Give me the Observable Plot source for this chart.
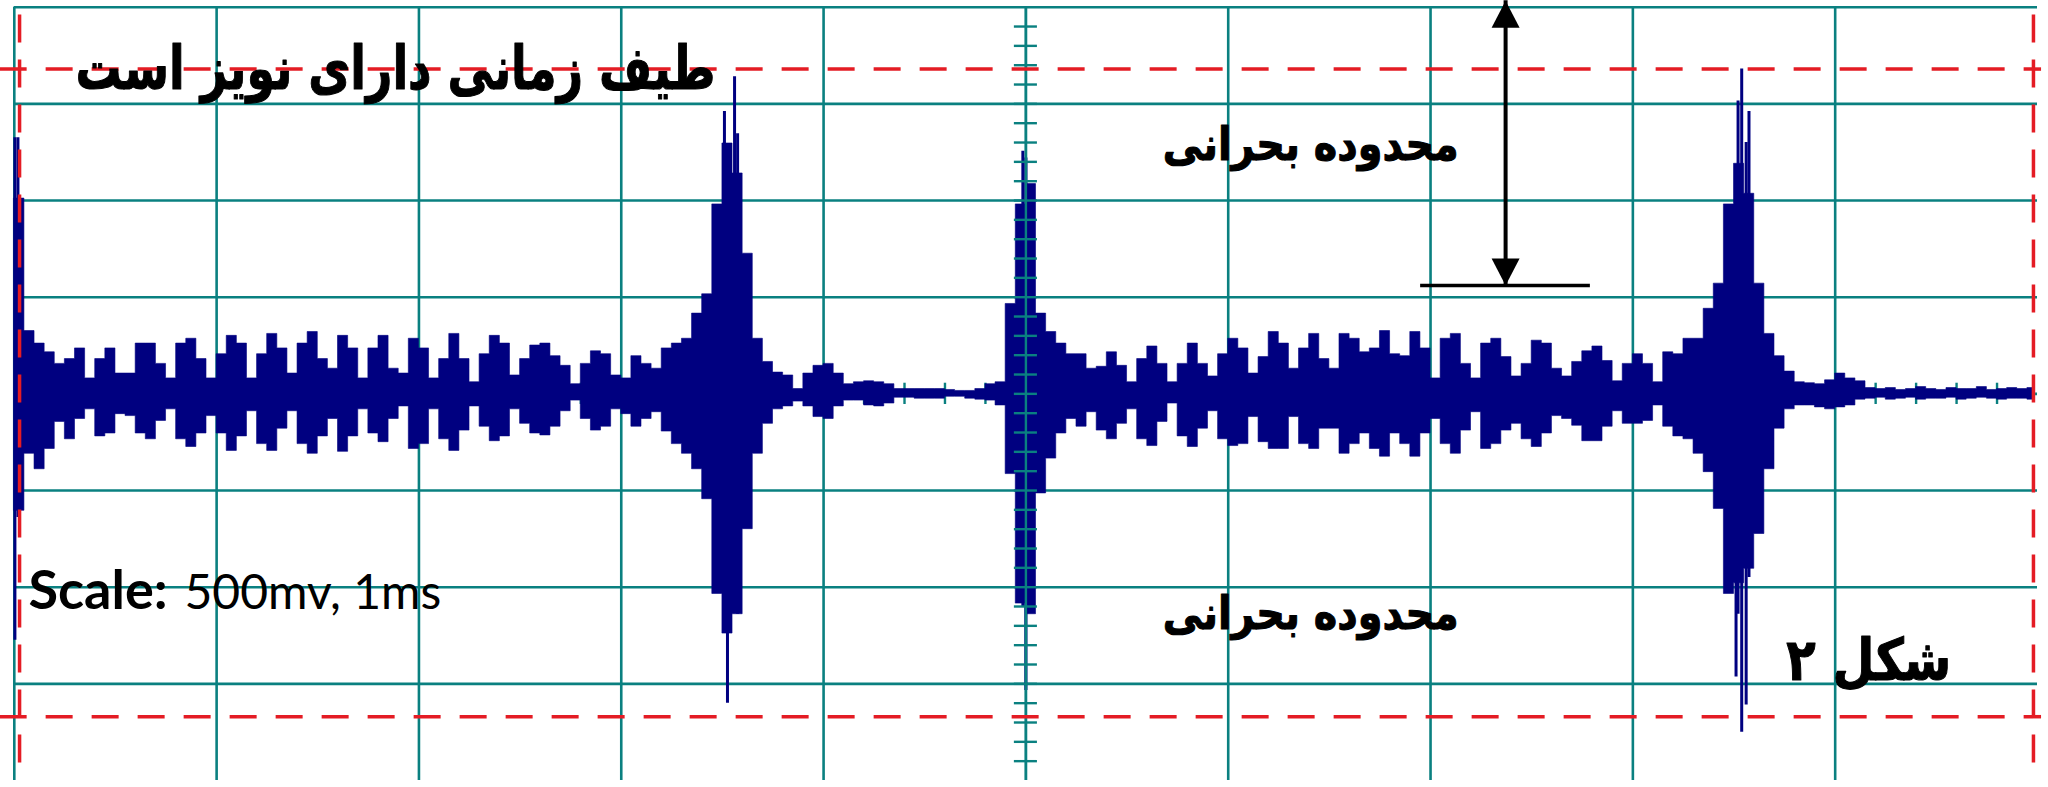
<!DOCTYPE html>
<html>
<head>
<meta charset="utf-8">
<script src="https://cdn.jsdelivr.net/npm/d3@7"></script>
<script src="https://cdn.jsdelivr.net/npm/@observablehq/plot@0.6"></script>
<style>
  html, body { margin: 0; padding: 0; background: #ffffff; }
  #chart svg { display: block; overflow: visible; }
</style>
</head>
<body>
<div id="chart"></div>
<script>
// ---- data (oscilloscope trace, 500 mV/div, 1 ms/div) ----
const sampleStepMs = 0.05;
// upper envelope of the trace, mV
const upperMv = [
  1010,325,260,215,155,180,235,80,180,235,
  105,105,260,260,155,80,260,285,180,80,
  205,300,260,80,205,310,235,105,260,320,
  180,130,300,235,80,235,300,130,105,285,
  235,80,180,310,180,60,205,300,260,95,
  180,250,260,195,145,50,155,220,205,95,
  80,195,155,130,235,260,285,415,515,980,
  1295,1140,725,285,165,110,95,25,105,145,
  155,105,50,60,65,60,50,25,25,25,
  25,25,20,15,15,25,50,60,465,980,
  1085,415,320,260,205,205,130,140,215,145,
  60,180,245,155,60,155,260,155,90,205,
  285,235,105,190,320,260,130,235,310,180,
  130,310,285,215,235,325,205,195,320,235,
  80,285,310,155,80,260,285,190,90,155,
  275,260,130,90,165,220,245,170,65,155,
  205,155,60,215,205,285,285,440,570,980,
  1190,1035,570,310,195,115,60,55,50,70,
  105,80,65,30,25,30,20,25,35,25,
  20,30,25,25,35,20,25,30,25,30
];
// lower envelope of the trace, mV
const lowerMv = [
  -605,-310,-390,-285,-145,-235,-130,-80,-220,-205,
  -105,-115,-205,-235,-140,-80,-235,-275,-205,-115,
  -205,-295,-220,-90,-260,-295,-180,-90,-260,-310,
  -220,-130,-300,-220,-80,-205,-250,-130,-65,-285,
  -260,-80,-235,-295,-190,-65,-170,-245,-220,-80,
  -155,-205,-215,-170,-90,-35,-130,-190,-170,-80,
  -105,-170,-130,-95,-195,-260,-310,-390,-545,-1035,
  -1240,-1140,-700,-310,-155,-80,-65,-40,-65,-120,
  -130,-65,-35,-35,-60,-65,-50,-20,-20,-25,
  -25,-25,-15,-15,-25,-30,-35,-60,-415,-1085,
  -1140,-515,-335,-205,-130,-170,-95,-190,-235,-155,
  -80,-235,-270,-145,-50,-220,-275,-180,-90,-235,
  -270,-260,-120,-250,-285,-285,-120,-260,-285,-180,
  -180,-310,-260,-205,-285,-325,-205,-260,-325,-205,
  -130,-260,-310,-190,-95,-285,-260,-190,-155,-235,
  -275,-205,-115,-130,-165,-245,-245,-170,-90,-155,
  -155,-140,-60,-170,-220,-235,-310,-405,-595,-1035,
  -980,-905,-725,-390,-180,-80,-60,-60,-70,-80,
  -70,-60,-30,-25,-20,-30,-25,-20,-30,-25,
  -25,-20,-30,-25,-20,-25,-30,-25,-25,-30
];
// thin peaks (start spike and inside the three bursts)
const peakTimesMs = [0.003, 0.018, 3.51, 3.525, 3.56, 3.575, 4.985, 5.0, 8.51, 8.52, 8.538, 8.56, 8.574];
const peakHighMv  = [1325, 1325, 1460, 1290, 1640, 1345, 1255, 1220, 1120, 1515, 1680, 1300, 1460];
const peakLowMv   = [-1275, -640, -1160, -1600, -1130, -1140, -1100, -1535, -1465, -1140, -1750, -1610, -950];

// critical levels (red dashed) and the marked range
const criticalLevelsMv = [1680, -1670];
const frameEdgesMs = [0.026, 9.98];
const rangeArrow = {t: 7.371, topMv: 2034, bottomMv: 560, barFromMs: 6.951, barToMs: 7.79};

// texts
const titleText = "طیف زمانی دارای نویز است";
const criticalText = "محدوده بحرانی";
const figureText = "شکل ۲";
const scaleLabel = "Scale:";
const scaleValue = "500mv, 1ms";

// grid
const timeGrid = [0,1,2,3,4,5,6,7,8,9];
const voltGrid = [-1500,-1000,-500,0,500,1000,1500,2000];

// ---- build ----
const trace = upperMv.map((h, i) => ({t: i * sampleStepMs, hi: h, lo: lowerMv[i]}));
trace.push({t: upperMv.length * sampleStepMs - 0.015, hi: upperMv[upperMv.length-1], lo: lowerMv[lowerMv.length-1]});
const peaks = peakTimesMs.map((t, i) => ({t, hi: peakHighMv[i], lo: peakLowMv[i]}));

const minorV = d3.range(-1900, 2000, 100).map(v => ({v}));
const minorT = d3.range(0.2, 10, 0.2).map(t => ({t}));

const teal = "#0a8080";
const navy = "#000080";
const red = "#e41c24";
const arabicFont = "'DejaVu Sans', sans-serif";

const triUp = {draw(ctx) { ctx.moveTo(0, 0); ctx.lineTo(14, 27); ctx.lineTo(-14, 27); ctx.closePath(); }};
const triDown = {draw(ctx) { ctx.moveTo(0, 0); ctx.lineTo(14, -27); ctx.lineTo(-14, -27); ctx.closePath(); }};

const arabicText = (label, x, y, size) => Plot.text([label], {
  x, y, text: d => d, fontFamily: arabicFont, fontWeight: "bold", fontSize: size,
  textAnchor: "middle", lineAnchor: "bottom", fill: "black", stroke: "black", strokeWidth: 1.1
});

const chart = Plot.plot({
  width: 2048,
  height: 787,
  marginLeft: 13.8,
  marginRight: 11,
  marginTop: 6.7,
  marginBottom: 7,
  x: {domain: [0, 10], axis: null},
  y: {domain: [-2000, 2000], axis: null},
  marks: [
    Plot.ruleX(timeGrid, {stroke: teal, strokeWidth: 2.6, y1: -2000, y2: 2000}),
    Plot.ruleY(voltGrid, {stroke: teal, strokeWidth: 2.6, x1: 0, x2: 10}),
    Plot.ruleX(minorT, {x: "t", y1: -55, y2: 55, stroke: teal, strokeWidth: 2.4}),
    Plot.areaY(trace, {x: "t", y1: "lo", y2: "hi", curve: "step-after", fill: navy, stroke: navy, strokeWidth: 0.6}),
    Plot.ruleX(peaks, {x: "t", y1: "lo", y2: "hi", stroke: navy, strokeWidth: 3}),
    Plot.ruleX([5], {stroke: teal, strokeWidth: 2.4, y1: -2000, y2: 2000}),
    Plot.ruleY(minorV, {y: "v", x1: 5 - 0.057, x2: 5 + 0.057, stroke: teal, strokeWidth: 2.4}),
    Plot.ruleY(criticalLevelsMv, {x1: -0.07, x2: 10.02, stroke: red, strokeWidth: 3.5, strokeDasharray: "27,19"}),
    Plot.ruleX(frameEdgesMs, {y1: 1960, y2: -1990, stroke: red, strokeWidth: 3.5, strokeDasharray: "28,17"}),
    Plot.ruleX([rangeArrow], {x: "t", y1: "topMv", y2: "bottomMv", stroke: "black", strokeWidth: 4}),
    Plot.ruleY([rangeArrow], {y: "bottomMv", x1: "barFromMs", x2: "barToMs", stroke: "black", strokeWidth: 3.5}),
    Plot.dot([rangeArrow], {x: "t", y: "topMv", symbol: triUp, fill: "black", stroke: "none"}),
    Plot.dot([rangeArrow], {x: "t", y: "bottomMv", symbol: triDown, fill: "black", stroke: "none"}),
    arabicText(titleText, 1.884, 1575, 60),
    arabicText(criticalText, 6.408, 1210, 46),
    arabicText(criticalText, 6.408, -1215, 46),
    arabicText(figureText, 9.166, -1480, 58),
    Plot.text([scaleLabel], {x: 0.0702, y: -1114, text: d => d, fontFamily: "Lato, sans-serif", fontWeight: "bold", fontSize: 54, textAnchor: "start", lineAnchor: "bottom", fill: "black"}),
    Plot.text([scaleValue], {x: 0.841, y: -1114, text: d => d, fontFamily: "Lato, sans-serif", fontWeight: "normal", fontSize: 48, textAnchor: "start", lineAnchor: "bottom", fill: "black"})
  ]
});

// fit the Persian labels to the widths they take in the figure
const fitWidths = new Map([[titleText, 640], [criticalText, 296], [figureText, 165]]);
d3.select(chart).selectAll("text").each(function() {
  const w = fitWidths.get(this.textContent);
  if (w) {
    this.setAttribute("textLength", w);
    this.setAttribute("lengthAdjust", "spacingAndGlyphs");
  }
});
document.getElementById("chart").appendChild(chart);
</script>
</body>
</html>
